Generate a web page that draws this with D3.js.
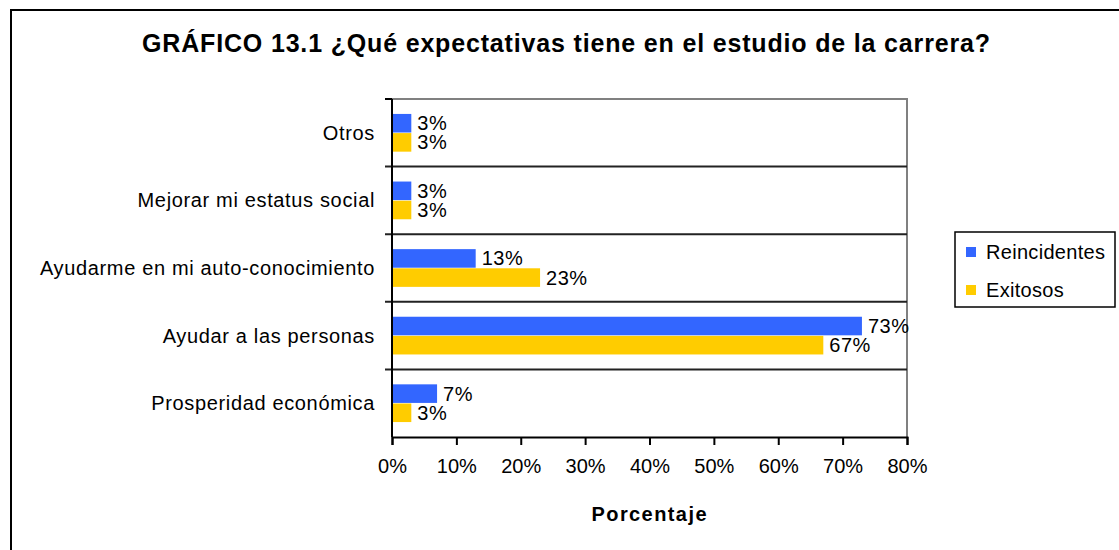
<!DOCTYPE html>
<html>
<head>
<meta charset="utf-8">
<script src="https://cdn.jsdelivr.net/npm/d3@7"></script>
<style>
    body { margin: 0; background: #fff; }
    text { font-family: "Liberation Sans", Arial, sans-serif; fill: #000; }
</style>
</head>
<body>
<svg id="chart" width="1119" height="550"></svg>
<script>
    // chart data
    const categories = ["Otros", "Mejorar mi estatus social", "Ayudarme en mi auto-conocimiento", "Ayudar a las personas", "Prosperidad económica"];
    const seriesNames = ["Reincidentes", "Exitosos"];
    const reincidentes = [3, 3, 13, 73, 7];
    const exitosos = [3, 3, 23, 67, 3];
    const xTicks = [0, 10, 20, 30, 40, 50, 60, 70, 80];
    const colors = ["#3366FF", "#FFCC00"];

    var svg = d3.select("#chart");

    // outer frame (runs off the picture on the right and bottom)
    svg.append("rect")
        .attr("x", 11).attr("y", 10)
        .attr("width", 1130).attr("height", 560)
        .attr("fill", "none").attr("stroke", "#000").attr("stroke-width", 2);

    svg.append("text")
        .attr("x", 566).attr("y", 52)
        .attr("text-anchor", "middle")
        .attr("textLength", 848).attr("lengthAdjust", "spacing")
        .style("font-size", "25px").style("font-weight", "bold")
        .text("GRÁFICO 13.1 ¿Qué expectativas tiene en el estudio de la carrera?");

    var pLeft = 392, pRight = 907, pTop = 99, pBottom = 437;

    var x = d3.scaleLinear().domain([0, 80]).range([pLeft, pRight]);
    var y = d3.scaleBand().domain(categories).range([pTop, pBottom]);
    var inner = d3.scaleBand().domain(seriesNames).range([0, y.bandwidth()]).paddingOuter(0.78).paddingInner(0.03);

    // plot frame: grey top and right
    svg.append("path")
        .attr("d", "M" + pLeft + "," + pTop + "H" + pRight + "V" + pBottom)
        .attr("fill", "none").attr("stroke", "#808080").attr("stroke-width", 2);

    // category separators
    svg.append("g").selectAll("line")
        .data(categories.slice(1))
        .enter().append("line")
        .attr("x1", pLeft - 7).attr("x2", pRight)
        .attr("y1", d => y(d)).attr("y2", d => y(d))
        .attr("stroke", "#222").attr("stroke-width", 2);

    svg.append("line")
        .attr("x1", pLeft - 7).attr("x2", pLeft)
        .attr("y1", pTop).attr("y2", pTop)
        .attr("stroke", "#000").attr("stroke-width", 2);

    var rows = categories.map((c, i) => ({ cat: c, vals: [reincidentes[i], exitosos[i]] }));

    var groups = svg.append("g").selectAll("g")
        .data(rows)
        .enter().append("g")
        .attr("transform", d => "translate(0," + y(d.cat) + ")");

    groups.selectAll("rect")
        .data(d => d.vals.map((v, j) => ({ name: seriesNames[j], v: v, j: j })))
        .enter().append("rect")
        .attr("x", x(0))
        .attr("y", d => inner(d.name))
        .attr("width", d => x(d.v) - x(0))
        .attr("height", inner.bandwidth())
        .attr("fill", d => colors[d.j]);

    groups.selectAll("text.val")
        .data(d => d.vals.map((v, j) => ({ name: seriesNames[j], v: v })))
        .enter().append("text")
        .attr("class", "val")
        .attr("x", d => x(d.v) + 6)
        .attr("y", d => inner(d.name) + inner.bandwidth() / 2 + 7)
        .style("font-size", "20px").style("letter-spacing", "0.5px")
        .text(d => d.v + "%");

    // category labels
    svg.append("g").selectAll("text")
        .data(categories)
        .enter().append("text")
        .attr("x", pLeft - 17)
        .attr("y", d => y(d) + y.bandwidth() / 2 + 7)
        .attr("text-anchor", "end")
        .style("font-size", "20px").style("letter-spacing", "0.65px")
        .text(d => d);

    // axes lines
    svg.append("line")
        .attr("x1", pLeft).attr("x2", pLeft).attr("y1", pTop).attr("y2", pBottom)
        .attr("stroke", "#000").attr("stroke-width", 2);

    var xAxis = svg.append("g")
        .attr("transform", "translate(0," + pBottom + ")")
        .call(d3.axisBottom(x).tickValues(xTicks).tickSize(8).tickPadding(14).tickFormat(d => d + "%"));
    xAxis.select(".domain").attr("stroke", "#000").attr("stroke-width", 2);
    xAxis.selectAll(".tick line").attr("stroke", "#000").attr("stroke-width", 2);
    xAxis.selectAll("text").style("font-size", "20px").style("font-family", "'Liberation Sans', Arial, sans-serif");

    svg.append("text")
        .attr("x", 649).attr("y", 521)
        .attr("text-anchor", "middle")
        .attr("textLength", 115).attr("lengthAdjust", "spacing")
        .style("font-size", "20px").style("font-weight", "bold")
        .text("Porcentaje");

    // legend
    var lg = svg.append("g");
    lg.append("rect")
        .attr("x", 955).attr("y", 232).attr("width", 160).attr("height", 75)
        .attr("fill", "#fff").attr("stroke", "#000").attr("stroke-width", 1.5);
    var items = lg.selectAll("g")
        .data(seriesNames)
        .enter().append("g")
        .attr("transform", (d, i) => "translate(966," + (247 + i * 38) + ")");
    items.append("rect")
        .attr("width", 10).attr("height", 10)
        .attr("fill", (d, i) => colors[i]);
    items.append("text")
        .attr("x", 20).attr("y", 12)
        .style("font-size", "20px").style("letter-spacing", "0.3px")
        .text(d => d);
</script>
</body>
</html>
